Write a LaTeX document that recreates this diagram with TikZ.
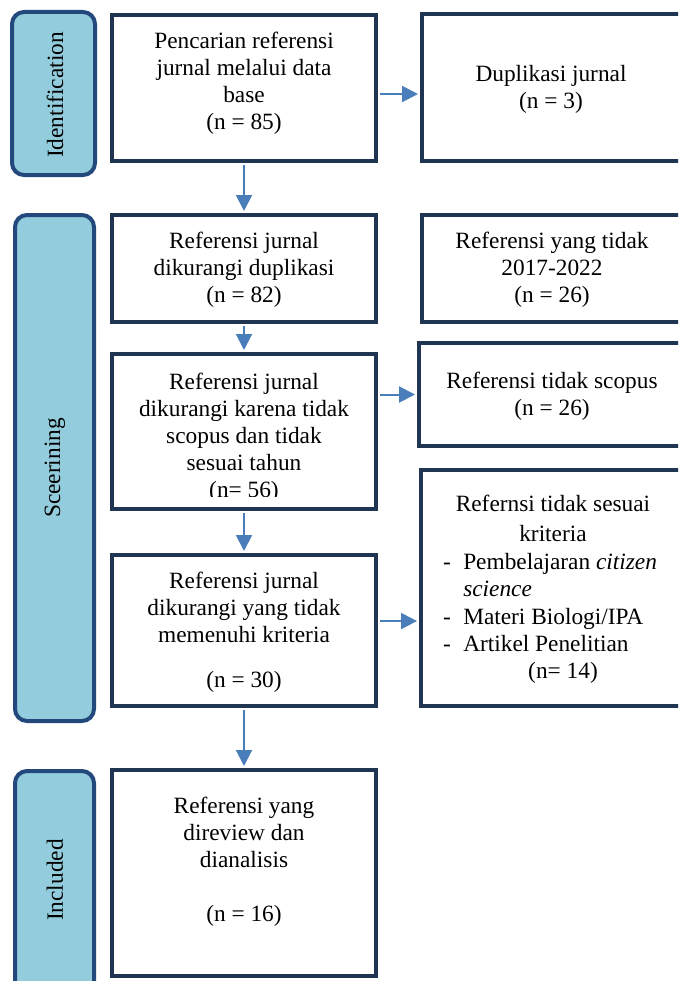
\documentclass[tikz,border=0pt]{standalone}
\usepackage{fontspec}
\setmainfont{Liberation Serif}
\usetikzlibrary{arrows.meta}
\definecolor{lanefill}{HTML}{93CDDD}
\definecolor{laneline}{HTML}{23487C}
\definecolor{boxline}{HTML}{1F3552}
\definecolor{arrowc}{HTML}{4A7EBB}
\tikzset{
 box/.style={draw=boxline, line width=3pt, fill=white, rectangle, inner sep=0pt},
 lane/.style={draw=laneline, line width=3pt, fill=lanefill, rectangle, rounded corners=9pt, inner sep=0pt},
 txt/.style={font=\fontsize{17.5}{20.25}\selectfont, align=center, inner sep=0pt},
 ltxt/.style={font=\fontsize{17.5}{20.25}\selectfont, inner sep=0pt},
 arr/.style={draw=arrowc, line width=1.5pt, -{Triangle[length=12pt,width=12pt]}, shorten >=1.5pt, shorten <=1.5pt},
}
\begin{document}
\begin{tikzpicture}[x=0.75pt,y=-0.75pt]
\useasboundingbox (0,0) rectangle (678,981);
\clip (0,0) rectangle (678,981);
% lanes
\node[lane, minimum width=62.25pt, minimum height=122.25pt] (lid) at (53.5,93.5) {};
\node[lane, minimum width=59.25pt, minimum height=379.5pt] (lsc) at (54.5,468) {};
\node[lane, minimum width=59.25pt, minimum height=171.75pt] (lin) at (54.5,885.5) {};
\node[ltxt, rotate=90] (tid) at (55,95) {Identification};
\node[ltxt, rotate=90] (tsc) at (55,468) {Sceerining};
\node[ltxt, rotate=90] (tin) at (55,880) {Included};
% boxes
\node[box, minimum width=198pt, minimum height=109.5pt] (b1) at (244,88) {};
\node[box, minimum width=208.5pt, minimum height=110.25pt] (dup) at (561,87.5) {};
\node[box, minimum width=198pt, minimum height=80.25pt] (b82) at (244,268.5) {};
\node[box, minimum width=208.5pt, minimum height=80.25pt] (b17) at (561,268.5) {};
\node[box, minimum width=198pt, minimum height=116.25pt] (b56) at (244,431.5) {};
\node[box, minimum width=210.75pt, minimum height=77.25pt] (sco) at (559.5,394.5) {};
\node[box, minimum width=198pt, minimum height=113.25pt] (b30) at (244,630.5) {};
\node[box, minimum width=209.25pt, minimum height=177pt] (krit) at (560.5,588) {};
\node[box, minimum width=198pt, minimum height=154.5pt] (b16) at (244,873) {};
% texts
\node[txt] (t1) at (244,83) {Pencarian referensi\\jurnal melalui data\\base\\(n = 85)};
\node[txt] (tdup) at (551,89) {Duplikasi jurnal\\(n = 3)};
\node[txt] (t82) at (244,270) {Referensi jurnal\\dikurangi duplikasi\\(n = 82)};
\node[txt] (t17) at (552,270) {Referensi yang tidak\\2017-2022\\(n = 26)};
\begin{scope}
\clip (112,356) rectangle (376,496);
\node[txt] (t56) at (244,438) {Referensi jurnal\\dikurangi karena tidak\\scopus dan tidak\\sesuai tahun\\(n= 56)};
\end{scope}
\node[txt] (tsco) at (552,396.5) {Referensi tidak scopus\\(n = 26)};
\node[txt] (t30) at (244,632) {Referensi jurnal\\dikurangi yang tidak\\memenuhi kriteria\\[13.5pt](n = 30)};
\node[txt] (t16) at (244,862) {Referensi yang\\direview dan\\dianalisis\\[20.25pt](n = 16)};
% kriteria list
\node[ltxt, anchor=base] (k1) at (553,511) {Refernsi tidak sesuai};
\node[ltxt, anchor=base] (k2) at (553,541) {kriteria};
\node[ltxt, anchor=base] (d1) at (447,569) {-};
\node[ltxt, anchor=base west] (k3) at (463,569) {Pembelajaran \textit{citizen}};
\node[ltxt, anchor=base west] (k4) at (463,596) {\textit{science}};
\node[ltxt, anchor=base] (d2) at (447,624) {-};
\node[ltxt, anchor=base west] (k5) at (463,624) {Materi Biologi/IPA};
\node[ltxt, anchor=base] (d3) at (447,651) {-};
\node[ltxt, anchor=base west] (k6) at (463,651) {Artikel Penelitian};
\node[ltxt, anchor=base] (k7) at (563,678) {(n= 14)};
% arrows
\coordinate (s1) at ([yshift=-4.5pt]b1.east);
\draw[arr] (s1) -- (s1 -| dup.west);
\draw[arr] (b56.east |- sco.west) -- (sco.west);
\coordinate (s30) at ([yshift=7.1pt]b30.east);
\draw[arr] (s30) -- (s30 -| krit.west);
\draw[arr] (b1.south) -- (b82.north);
\draw[arr] (b82.south) -- (b56.north);
\draw[arr] (b56.south) -- (b30.north);
\draw[arr] (b30.south) -- (b16.north);
\end{tikzpicture}
\end{document}
